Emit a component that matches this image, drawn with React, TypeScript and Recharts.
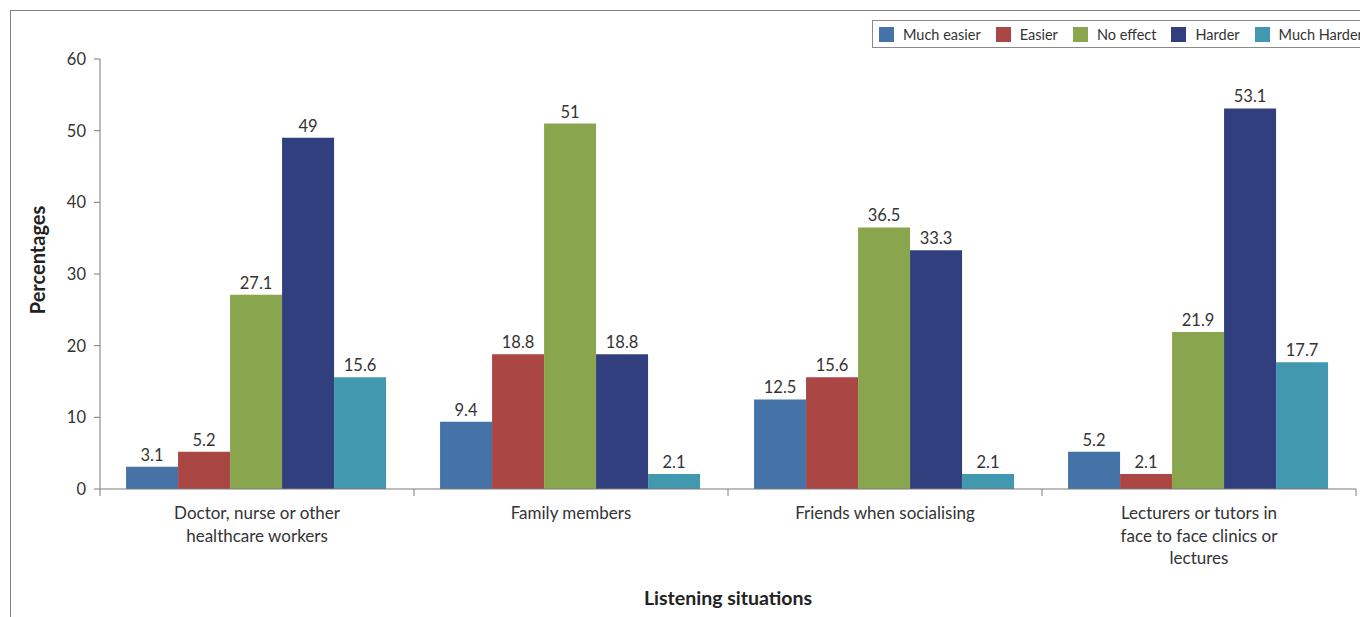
import React from 'react';
import { BarChart, Bar, XAxis, YAxis, LabelList, Label } from 'recharts';

const categories = [
  'Doctor, nurse or other\nhealthcare workers',
  'Family members',
  'Friends when socialising',
  'Lecturers or tutors in\nface to face clinics or\nlectures',
];
const seriesNames = ['Much easier', 'Easier', 'No effect', 'Harder', 'Much Harder'];
const seriesKeys = ['muchEasier', 'easier', 'noEffect', 'harder', 'muchHarder'];
const seriesColors = ['#4573A7', '#AA4643', '#89A54E', '#313F7E', '#4198AF'];
const muchEasier = [3.1, 9.4, 12.5, 5.2];
const easier = [5.2, 18.8, 15.6, 2.1];
const noEffect = [27.1, 51, 36.5, 21.9];
const harder = [49, 18.8, 33.3, 53.1];
const muchHarder = [15.6, 2.1, 2.1, 17.7];
const yTicks = [0, 10, 20, 30, 40, 50, 60];

const seriesValues = [muchEasier, easier, noEffect, harder, muchHarder];
const data = categories.map((c, i) => {
  const row: Record<string, any> = { name: c };
  seriesKeys.forEach((k, j) => {
    row[k] = seriesValues[j][i];
  });
  return row;
});

const FONT = 'Lato, "Open Sans", sans-serif';
const TEXT = '#333333';
const AXIS = '#7a7a7a';

const XTick = (props: any) => {
  const { x, y, payload, index, width, visibleTicksCount } = props;
  const n = visibleTicksCount || categories.length;
  const band = width / n;
  const lines = String(payload.value).split('\n');
  const left = x - band / 2;
  const right = x + band / 2;
  return (
    <g>
      <line x1={left} y1={y - 8} x2={left} y2={y - 1} stroke={AXIS} strokeWidth={1} />
      {index === n - 1 && (
        <line x1={right} y1={y - 8} x2={right} y2={y - 1} stroke={AXIS} strokeWidth={1} />
      )}
      <text x={x} y={y + 22} textAnchor="middle" fill={TEXT} fontSize={17} fontFamily={FONT}>
        {lines.map((l, i) => (
          <tspan key={i} x={x} dy={i === 0 ? 0 : 22.5}>
            {l}
          </tspan>
        ))}
      </text>
    </g>
  );
};

const LegendBox = () => (
  <div
    style={{
      position: 'absolute',
      left: 872,
      top: 20,
      display: 'flex',
      alignItems: 'center',
      border: '1px solid #8a8a8a',
      height: 28,
      boxSizing: 'border-box',
      paddingLeft: 6,
      paddingRight: 10,
      background: '#fff',
      whiteSpace: 'nowrap',
      fontFamily: FONT,
      fontSize: 14.5,
      color: TEXT,
    }}
  >
    {seriesNames.map((n, i) => (
      <div key={n} style={{ display: 'flex', alignItems: 'center', marginRight: 15 }}>
        <div style={{ width: 15, height: 15, background: seriesColors[i], marginRight: 9 }} />
        <span>{n}</span>
      </div>
    ))}
  </div>
);

export default function App() {
  return (
    <div
      style={{
        position: 'absolute',
        left: 0,
        top: 0,
        width: 1360,
        height: 617,
        overflow: 'hidden',
        background: '#fff',
      }}
    >
      <div
        style={{
          position: 'absolute',
          left: 10,
          top: 10,
          width: 1360,
          height: 620,
          borderLeft: '1px solid #808080',
          borderTop: '1px solid #808080',
        }}
      />
      <BarChart
        width={1360}
        height={617}
        data={data}
        margin={{ top: 59, right: 4, bottom: 0, left: 0 }}
        barCategoryGap="8.3%"
        barGap={0}
        style={{ position: 'absolute', left: 0, top: 0 }}
      >
        <XAxis
          dataKey="name"
          height={128}
          tickLine={false}
          axisLine={{ stroke: AXIS }}
          tick={<XTick />}
          interval={0}
        >
          <Label
            value="Listening situations"
            position="insideBottom"
            offset={12}
            fill="#222"
            fontSize={19.5}
            fontWeight="bold"
            fontFamily={FONT}
          />
        </XAxis>
        <YAxis
          width={100}
          domain={[0, 60]}
          ticks={yTicks}
          interval={0}
          tickSize={6}
          tickMargin={8}
          axisLine={{ stroke: AXIS }}
          tickLine={{ stroke: AXIS }}
          tick={{ fill: TEXT, fontSize: 16.5, fontFamily: FONT }}
        >
          <Label
            content={(p: any) => {
              const vb = p.viewBox;
              const cx = vb.x + 37;
              const cy = vb.y + vb.height / 2 - 14;
              return (
                <text
                  x={cx}
                  y={cy}
                  transform={`rotate(-90, ${cx}, ${cy})`}
                  textAnchor="middle"
                  dominantBaseline="central"
                  fill="#222"
                  fontSize={20}
                  fontWeight="bold"
                  fontFamily={FONT}
                >
                  Percentages
                </text>
              );
            }}
          />
        </YAxis>
        {seriesKeys.map((k, i) => (
          <Bar key={k} dataKey={k} name={seriesNames[i]} fill={seriesColors[i]} isAnimationActive={false}>
            <LabelList
              dataKey={k}
              position="top"
              offset={6}
              fill={TEXT}
              fontSize={16.5}
              fontFamily={FONT}
            />
          </Bar>
        ))}
      </BarChart>
      <LegendBox />
    </div>
  );
}
